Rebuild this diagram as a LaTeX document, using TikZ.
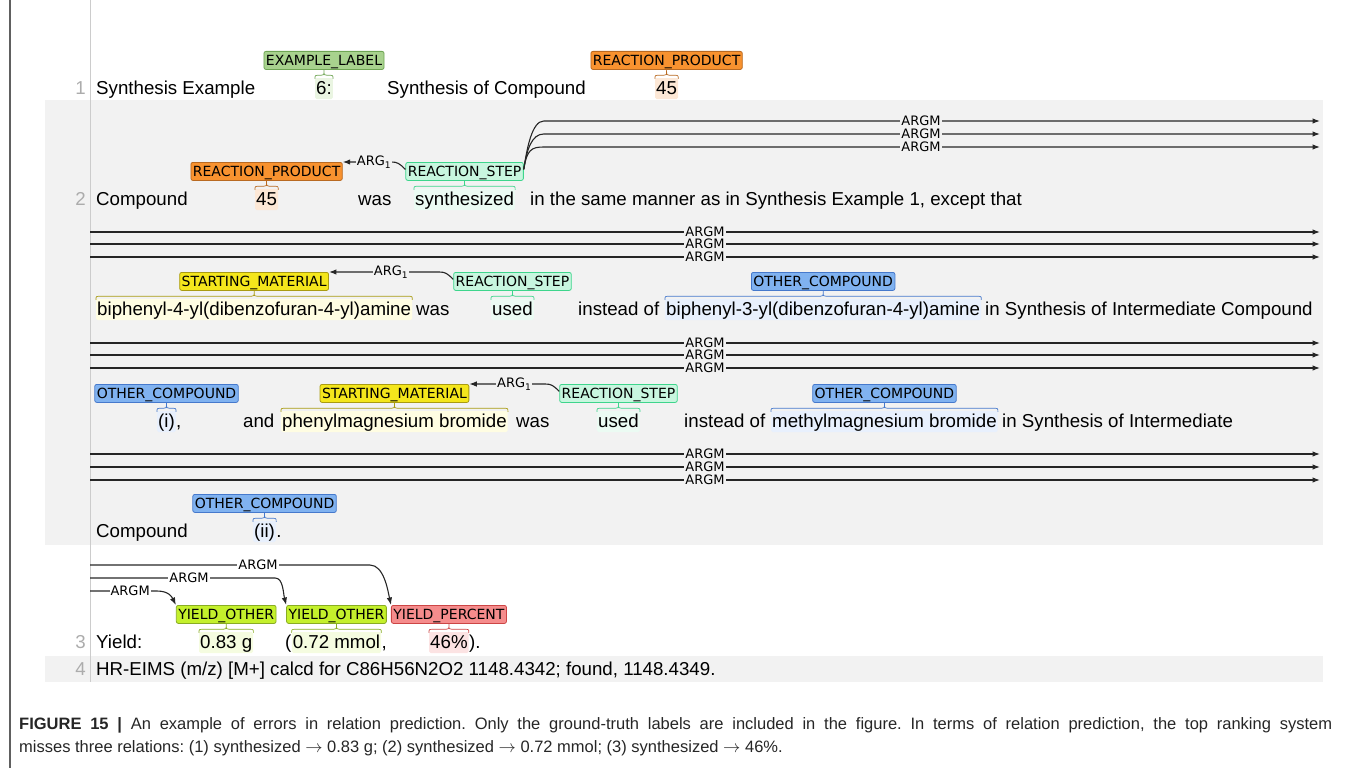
\documentclass[tikz,border=0pt]{standalone}
\usepackage{fontspec}
\setmainfont{Liberation Sans}
\newfontfamily\tagfont{DejaVu Sans}
\newfontfamily\capfont{Liberation Sans}
\usetikzlibrary{positioning,calc,arrows.meta}

\definecolor{rowgray}{HTML}{F2F2F2}
\definecolor{exfill}{HTML}{A8D28E}\definecolor{exdraw}{HTML}{6FA554}
\definecolor{rpfill}{HTML}{F8922F}\definecolor{rpdraw}{HTML}{B96A22}
\definecolor{rsfill}{HTML}{C8F6DF}\definecolor{rsdraw}{HTML}{3ED58C}
\definecolor{smfill}{HTML}{F4E61C}\definecolor{smdraw}{HTML}{A99B12}
\definecolor{ocfill}{HTML}{80B2F0}\definecolor{ocdraw}{HTML}{4679CC}
\definecolor{yofill}{HTML}{C4F02C}\definecolor{yodraw}{HTML}{89AC24}
\definecolor{ypfill}{HTML}{F58C8C}\definecolor{ypdraw}{HTML}{CC4545}
\definecolor{hlgreen}{HTML}{EAF5E2}\definecolor{hlorange}{HTML}{FDE8D6}
\definecolor{hlmint}{HTML}{EBFBF3}\definecolor{hlyellow}{HTML}{FFFDE2}
\definecolor{hlblue}{HTML}{E8F0FD}\definecolor{hllime}{HTML}{F5FCE0}
\definecolor{hlpink}{HTML}{FCE3E3}

\newcommand\spanbrace[3]{%
  \draw[#3, line width=0.7pt] let \p1=(#2.north west), \p2=(#2.north east), \p3=(#1.south) in
    (\x1,{\y1-1pt}) .. controls (\x1,{\y1+2.5pt}) .. ({\x1+4pt},{\y1+2.5pt}) -- ({\x3-3pt},{\y1+2.5pt})
      .. controls (\x3,{\y1+2.5pt}) .. (\x3,\y3)
    (\x2,{\y1-1pt}) .. controls (\x2,{\y1+2.5pt}) .. ({\x2-4pt},{\y1+2.5pt}) -- ({\x3+3pt},{\y1+2.5pt})
      .. controls (\x3,{\y1+2.5pt}) .. (\x3,\y3);}

\tikzset{
  txt/.style={inner sep=0pt, anchor=base west, text height=14pt, text depth=4pt,
    font=\fontsize{18.7}{22}\selectfont},
  ent/.style={txt, fill=#1, inner xsep=1pt, inner ysep=2pt, text depth=3pt, rounded corners=1.5pt},
  lno/.style={inner sep=0pt, anchor=base east, text=gray!65, font=\fontsize{18.7}{22}\selectfont},
  tag/.style 2 args={fill=#1, draw=#2, rounded corners=2pt, line width=0.8pt, inner xsep=2pt,
    inner ysep=0pt, minimum height=18pt, text height=11pt, text depth=1pt,
    font=\tagfont\fontsize{14}{16}\selectfont},
  rel/.style={-{Latex[length=7.5pt,width=5.5pt]}, line width=1.1pt, black!85},
  rlbl/.style={fill=#1, inner sep=1pt, text=black, font=\tagfont\fontsize{13}{15}\selectfont},
  rlbl/.default=rowgray,
  capline/.style={inner sep=0pt, anchor=base west, text=black!85, font=\capfont\fontsize{16.5}{19}\selectfont}
}

\begin{document}
\frenchspacing
\begin{tikzpicture}[x=1pt,y=1pt]
  \useasboundingbox (0,0) rectangle (1348,-768);
  \fill[rowgray] (45,-100) rectangle (1323,-545);
  \fill[rowgray] (45,-656) rectangle (1323,-682);
  \draw[gray!40, line width=1pt] (90,0) -- (90,-682);
  \draw[gray!75!black, line width=1.2pt] (10,0) -- (10,-768);

  \node[lno] (n1) at (86,-94) {1};
  \node[lno] (n2) at (86,-205) {2};
  \node[lno] (n3) at (86,-648) {3};
  \node[lno] (n4) at (86,-675) {4};

  % line 1
  \node[txt] (w1a) at (96,-94) {Synthesis Example};
  \node[ent=hlgreen] (s1a) at (315,-94) {6:};
  \node[txt] (w1b) at (387,-94) {Synthesis of Compound};
  \node[ent=hlorange] (s1b) at (655,-94) {45};
  \node[tag={exfill}{exdraw}, above=8pt of s1a] (t1a) {EXAMPLE\_LABEL};
  \node[tag={rpfill}{rpdraw}, above=8pt of s1b] (t1b) {REACTION\_PRODUCT};
  \spanbrace{t1a}{s1a}{exdraw}
  \spanbrace{t1b}{s1b}{rpdraw}

  % line 2
  \node[txt] (w2a) at (96,-205) {Compound};
  \node[ent=hlorange] (s2a) at (255,-205) {45};
  \node[txt] (w2b) at (358,-205) {was};
  \node[ent=hlmint] (s2b) at (414,-205) {synthesized};
  \node[txt] (w2c) at (530,-205) {in the same manner as in Synthesis Example 1, except that};
  \node[tag={rpfill}{rpdraw}, above=8pt of s2a] (rp2) {REACTION\_PRODUCT};
  \node[tag={rsfill}{rsdraw}, above=8pt of s2b] (rs2) {REACTION\_STEP};
  \spanbrace{rp2}{s2a}{rpdraw}
  \spanbrace{rs2}{s2b}{rsdraw}
  \draw[rel] ([yshift=2pt]rs2.west) .. controls +(-6,6) and +(6,0) .. ([xshift=-14pt]rs2.north west)
    -- (rp2.north east);
  \node[rlbl] (a2) at ($(rp2.north east)!.5!(rs2.north west)$) {ARG\textsubscript{1}};
  \coordinate (e1) at (1320,-121);
  \coordinate (e2) at (1320,-134);
  \coordinate (e3) at (1320,-147);
  \foreach \e in {e1,e2,e3}
    \draw[rel] ([yshift=2pt]rs2.east) .. controls +(3,20) and +(-12,0) .. ($(rs2.east |- \e)+(20,0)$)
      -- node[rlbl, pos=.486] {ARGM} (\e);

  \foreach \y in {232,244,257,343,355,368,454,467,480}{
    \coordinate (l\y) at (90,-\y);
    \coordinate (r\y) at (1320,-\y);
    \draw[rel] (l\y) -- node[rlbl] {ARGM} (r\y);
  }

  % line 2, second row
  \node[ent=hlyellow] (s3a) at (96,-315) {biphenyl-4-yl(dibenzofuran-4-yl)amine};
  \node[txt] (w3a) at (416,-315) {was};
  \node[ent=hlmint] (s3b) at (491,-315) {used};
  \node[txt] (w3b) at (578,-315) {instead of};
  \node[ent=hlblue] (s3c) at (665,-315) {biphenyl-3-yl(dibenzofuran-4-yl)amine};
  \node[txt] (w3c) at (985,-315) {in Synthesis of Intermediate Compound};
  \node[tag={smfill}{smdraw}, above=8pt of s3a] (sm3) {STARTING\_MATERIAL};
  \node[tag={rsfill}{rsdraw}, above=8pt of s3b] (rs3) {REACTION\_STEP};
  \node[tag={ocfill}{ocdraw}, above=8pt of s3c] (oc3) {OTHER\_COMPOUND};
  \spanbrace{sm3}{s3a}{smdraw}
  \spanbrace{rs3}{s3b}{rsdraw}
  \spanbrace{oc3}{s3c}{ocdraw}
  \draw[rel] ([yshift=2pt]rs3.west) .. controls +(-6,6) and +(6,0) .. ([xshift=-14pt]rs3.north west)
    -- (sm3.north east);
  \node[rlbl] (a3) at ($(sm3.north east)!.5!(rs3.north west)$) {ARG\textsubscript{1}};

  % line 2, third row
  \node[ent=hlblue] (s4a) at (157,-427) {(i)};
  \node[txt] (w4a) at (s4a.base east) {,};
  \node[txt] (w4b) at (243,-427) {and};
  \node[ent=hlyellow] (s4b) at (281,-427) {phenylmagnesium bromide};
  \node[txt] (w4c) at (516,-427) {was};
  \node[ent=hlmint] (s4c) at (597,-427) {used};
  \node[txt] (w4d) at (684,-427) {instead of};
  \node[ent=hlblue] (s4d) at (771,-427) {methylmagnesium bromide};
  \node[txt] (w4e) at (1002,-427) {in Synthesis of Intermediate};
  \node[tag={ocfill}{ocdraw}, above=8pt of s4a] (oc4a) {OTHER\_COMPOUND};
  \node[tag={smfill}{smdraw}, above=8pt of s4b] (sm4) {STARTING\_MATERIAL};
  \node[tag={rsfill}{rsdraw}, above=8pt of s4c] (rs4) {REACTION\_STEP};
  \node[tag={ocfill}{ocdraw}, above=8pt of s4d] (oc4b) {OTHER\_COMPOUND};
  \spanbrace{oc4a}{s4a}{ocdraw}
  \spanbrace{sm4}{s4b}{smdraw}
  \spanbrace{rs4}{s4c}{rsdraw}
  \spanbrace{oc4b}{s4d}{ocdraw}
  \draw[rel] ([yshift=2pt]rs4.west) .. controls +(-6,6) and +(6,0) .. ([xshift=-14pt]rs4.north west)
    -- (sm4.north east);
  \node[rlbl] (a4) at ($(sm4.north east)!.5!(rs4.north west)$) {ARG\textsubscript{1}};

  % line 2, last row
  \node[txt] (w5a) at (96,-537) {Compound};
  \node[ent=hlblue] (s5a) at (253,-537) {(ii)};
  \node[txt] (w5b) at (s5a.base east) {.};
  \node[tag={ocfill}{ocdraw}, above=8pt of s5a] (oc5) {OTHER\_COMPOUND};
  \spanbrace{oc5}{s5a}{ocdraw}

  % line 3
  \node[txt] (w6a) at (96,-648) {Yield:};
  \node[ent=hllime] (s6a) at (199,-648) {0.83 g};
  \node[txt] (w6b) at (285,-648) {(};
  \node[ent=hllime] (s6b) at (w6b.base east) {0.72 mmol};
  \node[txt] (w6c) at (s6b.base east) {,};
  \node[ent=hlpink] (s6c) at (429,-648) {46\%};
  \node[txt] (w6d) at (s6c.base east) {).};
  \node[tag={yofill}{yodraw}, above=8pt of s6a] (yo1) {YIELD\_OTHER};
  \node[tag={yofill}{yodraw}, above=8pt of s6b] (yo2) {YIELD\_OTHER};
  \node[tag={ypfill}{ypdraw}, above=8pt of s6c] (yp) {YIELD\_PERCENT};
  \spanbrace{yo1}{s6a}{yodraw}
  \spanbrace{yo2}{s6b}{yodraw}
  \spanbrace{yp}{s6c}{ypdraw}
  \coordinate (y1s) at (90,-565);
  \coordinate (y2s) at (90,-578);
  \coordinate (y3s) at (90,-591);
  \draw[rel] (y1s) -- node[rlbl=white, pos=.6] {ARGM} ($(yp.north west |- y1s)+(-21,0)$)
    .. controls +(14,0) and +(-3,14) .. (yp.north west);
  \draw[rel] (y2s) -- node[rlbl=white, pos=.535] {ARGM} ($(yo2.north west |- y2s)+(-11,0)$)
    .. controls +(8,0) and +(-3,12) .. (yo2.north west);
  \draw[rel] (y3s) -- node[rlbl=white, pos=.6] {ARGM} ($(yo1.north west |- y3s)+(-19,0)$)
    .. controls +(12,0) and +(-4,8) .. (yo1.north west);

  % line 4
  \node[txt] (w7a) at (96,-675) {HR-EIMS (m/z) [M+] calcd for C86H56N2O2 1148.4342; found, 1148.4349.};

  % caption
  \node[capline] (cap1) at (19,-729)
    {\makebox[1313pt][s]{\textbf{FIGURE 15 |} An example of errors in relation prediction. Only the ground-truth labels are included in the figure. In terms of relation prediction, the top ranking system}};
  \node[capline] (cap2) at (19,-752)
    {misses three relations: (1) synthesized $\rightarrow$ 0.83 g; (2) synthesized $\rightarrow$ 0.72 mmol; (3) synthesized $\rightarrow$ 46\%.};
\end{tikzpicture}
\end{document}
